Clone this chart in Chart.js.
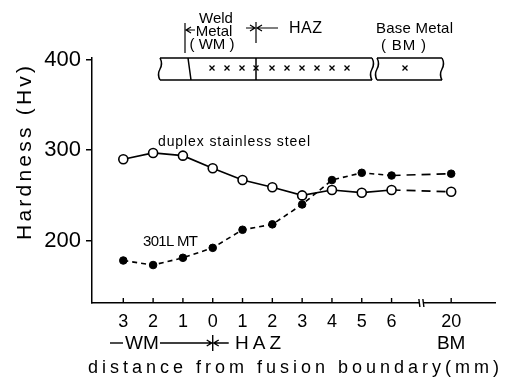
<!DOCTYPE html>
<html>
<head>
<meta charset="utf-8">
<script src="https://cdn.jsdelivr.net/npm/chart.js@4/dist/chart.umd.min.js"></script>
<style>
  html, body { margin: 0; padding: 0; background: #fff; }
  canvas { display: block; }
</style>
</head>
<body>
<canvas id="chart" width="508" height="383"></canvas>
<script>
// positions along the (broken) distance axis, and what is printed under them
const positions = [0, 1, 2, 3, 4, 5, 6, 7, 8, 9, 11]
const distLabels = ['3', '2', '1', '0', '1', '2', '3', '4', '5', '6', '20']
const hvTicks = [200, 300, 400]

const duplexHv = [290, 297, 294, 280, 267, 259, 250, 256, 253, 256, 254]
const mt301Hv = [178, 173, 181, 192, 212, 218, 240, 267, 275, 272, 274]

const breakAt = 10
const lastSeg = positions.length - 1

const font = '"Liberation Sans", "DejaVu Sans", sans-serif'

// draws a string spread evenly between x0 and x1
function spacedText(ctx, str, x0, x1, y) {
    let w = 0
    const ws = []
    for (const c of str) {
        const cw = ctx.measureText(c).width
        ws.push(cw)
        w += cw
    }
    const extra = str.length > 1 ? ((x1 - x0) - w) / (str.length - 1) : 0
    let x = x0
    ctx.textAlign = 'left'
    let i = 0
    for (const c of str) {
        ctx.fillText(c, x, y)
        x += ws[i] + extra
        i++
    }
}

function arrow(ctx, xFrom, xTo, y) {
    const d = xTo > xFrom ? 1 : -1
    ctx.beginPath()
    ctx.moveTo(xFrom, y)
    ctx.lineTo(xTo, y)
    ctx.moveTo(xTo - d * 5, y - 3)
    ctx.lineTo(xTo, y)
    ctx.lineTo(xTo - d * 5, y + 3)
    ctx.stroke()
}

function wavyEnd(ctx, x, top, bottom) {
    const h = bottom - top
    ctx.moveTo(x, top)
    ctx.quadraticCurveTo(x + 3, top + h * 0.25, x, top + h * 0.5)
    ctx.quadraticCurveTo(x - 3, top + h * 0.75, x, bottom)
}

function cross(ctx, x, y) {
    ctx.beginPath()
    ctx.moveTo(x - 2.5, y - 2.5); ctx.lineTo(x + 2.5, y + 2.5)
    ctx.moveTo(x + 2.5, y - 2.5); ctx.lineTo(x - 2.5, y + 2.5)
    ctx.stroke()
}

const decorations = {
    id: 'decorations',
    afterDraw(chart) {
        const ctx = chart.ctx
        const xs = chart.scales.x
        const ys = chart.scales.y
        const bottom = ys.bottom
        ctx.save()
        ctx.fillStyle = '#000'
        ctx.strokeStyle = '#000'
        ctx.lineWidth = 1.4
        ctx.textBaseline = 'middle'

        // tick marks pointing up into the plot
        positions.forEach(v => {
            const px = xs.getPixelForValue(v)
            ctx.beginPath()
            ctx.moveTo(px, bottom)
            ctx.lineTo(px, bottom - 5)
            ctx.stroke()
        })

        // axis break
        const bx = xs.getPixelForValue(breakAt)
        ctx.fillStyle = '#fff'
        ctx.fillRect(bx - 2, bottom - 2, 4, 4)
        ctx.fillStyle = '#000'
        ctx.beginPath()
        ctx.moveTo(bx - 2.5, bottom - 4); ctx.lineTo(bx - 1.5, bottom + 4)
        ctx.moveTo(bx + 1.5, bottom - 4); ctx.lineTo(bx + 2.5, bottom + 4)
        ctx.stroke()

        // region labels under the axis
        const x0 = xs.getPixelForValue(3)
        ctx.font = '19px ' + font
        ctx.beginPath()
        ctx.moveTo(110, 343); ctx.lineTo(123, 343)
        ctx.stroke()
        ctx.textAlign = 'center'
        ctx.fillText('WM', 142, 344)
        arrow(ctx, 160, x0 - 1, 343)
        ctx.beginPath()
        ctx.moveTo(x0, 335); ctx.lineTo(x0, 351)
        ctx.stroke()
        arrow(ctx, x0 + 16, x0 + 1, 343)
        spacedText(ctx, 'HAZ', 235, 281, 344)
        ctx.textAlign = 'center'
        ctx.fillText('BM', xs.getPixelForValue(11), 344)

        ctx.font = '18px ' + font
        spacedText(ctx, 'distance from fusion boundary(mm)', 88, 499, 368)

        // y title
        ctx.save()
        ctx.translate(25, 0)
        ctx.rotate(-Math.PI / 2)
        ctx.font = '21px ' + font
        spacedText(ctx, 'Hardness (Hv)', -240, -66, 0)
        ctx.restore()

        // series labels
        ctx.font = '14px ' + font
        spacedText(ctx, 'duplex stainless steel', 158, 310, 142)
        ctx.font = '15px ' + font
        spacedText(ctx, '301L MT', 143, 198, 242)

        // specimen sketch
        ctx.lineWidth = 1.5
        const top = 58, bot = 80
        ctx.beginPath()
        wavyEnd(ctx, 160, top, bot)
        ctx.moveTo(160, top); ctx.lineTo(372, top)
        ctx.moveTo(160, bot); ctx.lineTo(372, bot)
        wavyEnd(ctx, 372, top, bot)
        ctx.moveTo(188, top); ctx.lineTo(191, bot)
        ctx.moveTo(256, top); ctx.lineTo(256, bot)
        wavyEnd(ctx, 377, top, bot)
        ctx.moveTo(377, top); ctx.lineTo(442, top)
        ctx.moveTo(377, bot); ctx.lineTo(442, bot)
        wavyEnd(ctx, 442, top, bot)
        ctx.stroke()

        ctx.lineWidth = 1.3
        ;[212, 227, 242, 256, 272, 287, 302, 317, 332, 347, 405].forEach(cx => cross(ctx, cx, 68))

        ctx.font = '15px ' + font
        ctx.textAlign = 'center'
        ctx.fillText('Weld', 216, 19)
        ctx.fillText('Metal', 214, 32)
        ctx.fillText('( WM )', 212, 45)
        ctx.lineWidth = 1.2
        ctx.beginPath()
        ctx.moveTo(185, 23); ctx.lineTo(185, 53)
        ctx.moveTo(256, 22); ctx.lineTo(256, 43)
        ctx.stroke()
        arrow(ctx, 195, 186, 30)
        arrow(ctx, 246, 255, 28)
        arrow(ctx, 278, 257, 28)
        ctx.font = '16px ' + font
        spacedText(ctx, 'HAZ', 289, 322, 29)
        ctx.font = '15px ' + font
        spacedText(ctx, 'Base Metal', 376, 453, 29)
        spacedText(ctx, '( BM )', 381, 426, 46)

        ctx.restore()
    }
}

const ctx = document.getElementById('chart').getContext('2d')
const chart = new Chart(ctx, {
    type: 'line',
    data: {
        datasets: [{
            label: 'duplex stainless steel',
            data: positions.map((x, i) => ({ x: x, y: duplexHv[i] })),
            borderColor: '#000',
            borderWidth: 1.7,
            pointRadius: 4.5,
            pointBackgroundColor: '#fff',
            pointBorderColor: '#000',
            pointBorderWidth: 1.6,
            segment: {
                borderDash: c => c.p1DataIndex === lastSeg ? [9, 6] : undefined
            }
        },
        {
            label: '301L MT',
            data: positions.map((x, i) => ({ x: x, y: mt301Hv[i] })),
            borderColor: '#000',
            borderWidth: 1.6,
            pointRadius: 3.8,
            pointBackgroundColor: '#000',
            pointBorderColor: '#000',
            pointBorderWidth: 1,
            borderDash: [5, 4],
            segment: {
                borderDash: c => c.p1DataIndex === lastSeg ? [9, 6] : [5, 4]
            }
        }]
    },
    options: {
        responsive: false,
        animation: false,
        layout: { padding: { top: 58, right: 13, left: 0, bottom: 0 } },
        plugins: {
            legend: { display: false },
            tooltip: { enabled: false }
        },
        scales: {
            x: {
                type: 'linear',
                min: -1.05,
                max: 12.47,
                afterBuildTicks: s => { s.ticks = positions.map(v => ({ value: v })) },
                afterFit: s => { s.height = 80 },
                ticks: {
                    callback: v => distLabels[positions.indexOf(v)],
                    font: { size: 18, family: font },
                    color: '#000',
                    padding: 8,
                    autoSkip: false,
                    maxRotation: 0
                },
                grid: { display: false, drawTicks: false },
                border: { color: '#000', width: 1.5 }
            },
            y: {
                min: 131,
                max: 402,
                afterBuildTicks: s => { s.ticks = hvTicks.map(v => ({ value: v })) },
                afterFit: s => { s.width = 92 },
                ticks: {
                    font: { size: 22, family: font },
                    color: '#000',
                    padding: 5
                },
                grid: { drawOnChartArea: false, tickLength: 6, color: '#000', lineWidth: 1.5 },
                border: { color: '#000', width: 1.5 }
            }
        }
    },
    plugins: [decorations]
});
</script>
</body>
</html>
